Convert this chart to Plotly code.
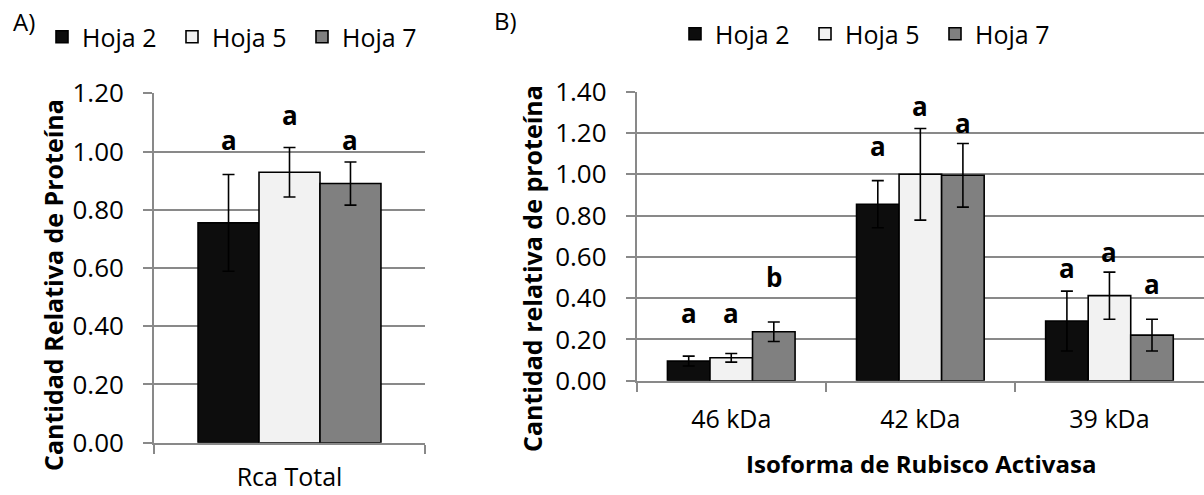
import plotly.graph_objects as go

W, H = 1204, 495

# ---------------- data ----------------
series = ["Hoja 2", "Hoja 5", "Hoja 7"]

a_categories = ["Rca Total"]
a_values = {"Hoja 2": [0.755], "Hoja 5": [0.929], "Hoja 7": [0.890]}
a_errors = {"Hoja 2": [0.166], "Hoja 5": [0.085], "Hoja 7": [0.074]}
a_letters = {"Hoja 2": ["a"], "Hoja 5": ["a"], "Hoja 7": ["a"]}
a_letter_y = {"Hoja 2": [1.039], "Hoja 5": [1.125], "Hoja 7": [1.039]}

b_categories = ["46 kDa", "42 kDa", "39 kDa"]
b_values = {"Hoja 2": [0.095, 0.855, 0.289],
            "Hoja 5": [0.111, 1.000, 0.412],
            "Hoja 7": [0.237, 0.995, 0.221]}
b_errors = {"Hoja 2": [0.024, 0.114, 0.145],
            "Hoja 5": [0.021, 0.222, 0.114],
            "Hoja 7": [0.047, 0.154, 0.077]}
b_letters = {"Hoja 2": ["a", "a", "a"],
             "Hoja 5": ["a", "a", "a"],
             "Hoja 7": ["b", "a", "a"]}
b_letter_y = {"Hoja 2": [0.328, 1.137, 0.545],
              "Hoja 5": [0.328, 1.331, 0.625],
              "Hoja 7": [0.504, 1.247, 0.469]}

a_ytitle = "Cantidad Relativa de Proteína"
b_ytitle = "Cantidad relativa de proteína"
b_xtitle = "Isoforma de Rubisco Activasa"

# ---------------- style ----------------
colors = {"Hoja 2": "#0d0d0d", "Hoja 5": "#f2f2f2", "Hoja 7": "#808080"}
FONT = "Open Sans"
GRID = "#898989"
BARGAP = 0.325

fig = go.Figure()

for s in series:
    fig.add_trace(go.Bar(
        x=a_categories, y=a_values[s], name=s,
        marker=dict(color=colors[s], line=dict(color="#000000", width=1.6)),
        error_y=dict(type="data", array=a_errors[s], color="#000000", thickness=1.6, width=6),
        xaxis="x", yaxis="y", legend="legend",
    ))
for s in series:
    fig.add_trace(go.Bar(
        x=b_categories, y=b_values[s], name=s,
        marker=dict(color=colors[s], line=dict(color="#000000", width=1.6)),
        error_y=dict(type="data", array=b_errors[s], color="#000000", thickness=1.6, width=6),
        xaxis="x2", yaxis="y2", legend="legend2",
    ))

# significance letters placed above each bar
barw = (1 - BARGAP) / len(series)
annotations = []
for i, s in enumerate(series):
    off = (i - (len(series) - 1) / 2) * barw
    for j, cat in enumerate(a_categories):
        annotations.append(dict(x=j + off, y=a_letter_y[s][j], xref="x", yref="y",
                                text="<b>%s</b>" % a_letters[s][j], showarrow=False,
                                font=dict(family=FONT, size=26, color="black")))
    for j, cat in enumerate(b_categories):
        annotations.append(dict(x=j + off, y=b_letter_y[s][j], xref="x2", yref="y2",
                                text="<b>%s</b>" % b_letters[s][j], showarrow=False,
                                font=dict(family=FONT, size=26, color="black")))


def px(x):
    return x / W


def py(y):
    return 1 - y / H


annotations += [
    dict(x=px(11), y=py(21), xref="paper", yref="paper", text="A)", showarrow=False,
         xanchor="left", yanchor="middle", font=dict(family=FONT, size=24, color="black")),
    dict(x=px(492), y=py(20), xref="paper", yref="paper", text="B)", showarrow=False,
         xanchor="left", yanchor="middle", font=dict(family=FONT, size=24, color="black")),
    dict(x=px(53), y=py(285), xref="paper", yref="paper", text="<b>%s</b>" % a_ytitle,
         textangle=-90, showarrow=False, xanchor="center", yanchor="middle",
         font=dict(family=FONT, size=25, color="black")),
    dict(x=px(532), y=py(269), xref="paper", yref="paper", text="<b>%s</b>" % b_ytitle,
         textangle=-90, showarrow=False, xanchor="center", yanchor="middle",
         font=dict(family=FONT, size=25, color="black")),
    dict(x=px(921), y=py(463), xref="paper", yref="paper", text="<b>%s</b>" % b_xtitle,
         showarrow=False, xanchor="center", yanchor="middle",
         font=dict(family=FONT, size=24, color="black")),
]

xcommon = dict(type="category", tickson="boundaries", ticks="outside", ticklen=9,
               tickcolor=GRID, tickwidth=1.8, showline=True, linecolor=GRID, linewidth=1.8,
               showgrid=False, zeroline=False, automargin=False,
               tickfont=dict(family=FONT, size=25, color="black"))
ycommon = dict(dtick=0.2, tick0=0, tickformat=".2f", ticks="outside", ticklen=9,
               tickcolor=GRID, tickwidth=1.8, showline=True, linecolor=GRID, linewidth=1.8,
               showgrid=True, gridcolor=GRID, gridwidth=1.8, zeroline=False,
               ticklabelstandoff=14, automargin=False,
               tickfont=dict(family=FONT, size=26, color="black"))

fig.update_layout(
    width=W, height=H,
    margin=dict(l=0, r=0, t=0, b=0, pad=0),
    paper_bgcolor="white", plot_bgcolor="white",
    barmode="group", bargap=BARGAP, bargroupgap=0,
    font=dict(family=FONT, size=24, color="black"),
    xaxis=dict(domain=[px(154), px(425)], anchor="y", ticklabelstandoff=11, **xcommon),
    yaxis=dict(domain=[py(442.7), py(93.3)], range=[0, 1.2], anchor="x", **ycommon),
    xaxis2=dict(domain=[px(636.7), 1.0], anchor="y2", ticklabelstandoff=15, **xcommon),
    yaxis2=dict(domain=[py(380.7), py(91.7)], range=[0, 1.4], anchor="x2", **ycommon),
    legend=dict(orientation="h", x=px(42), y=py(37), xanchor="left", yanchor="middle",
                font=dict(family=FONT, size=25, color="black"), bgcolor="rgba(0,0,0,0)",
                entrywidth=85, entrywidthmode="pixels"),
    legend2=dict(orientation="h", x=px(675), y=py(34), xanchor="left", yanchor="middle",
                 font=dict(family=FONT, size=25, color="black"), bgcolor="rgba(0,0,0,0)",
                 entrywidth=85, entrywidthmode="pixels"),
    annotations=annotations,
)

fig.write_html("out.html")
